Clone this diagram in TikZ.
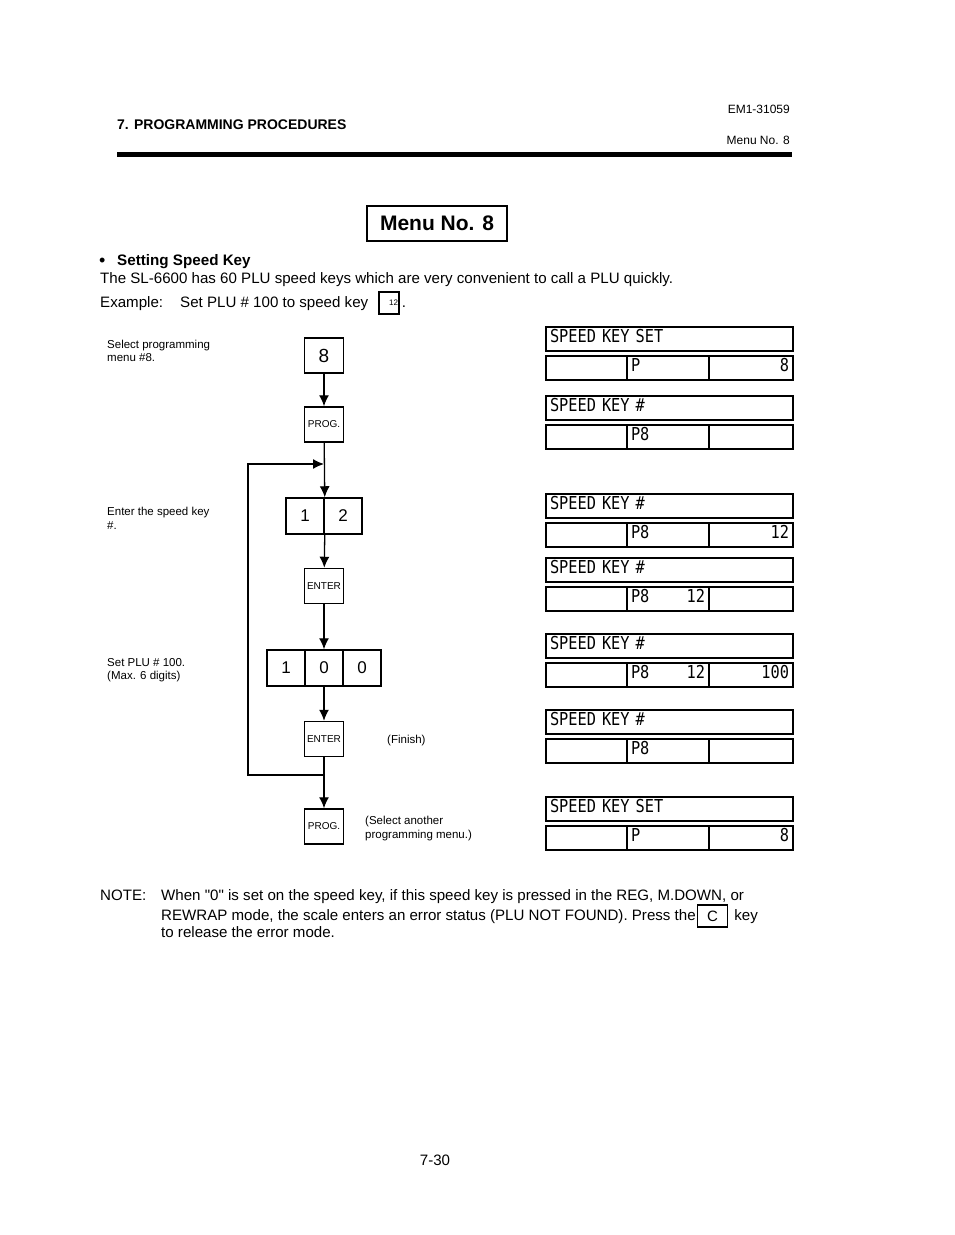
\documentclass[tikz,border=0pt]{standalone}
\usepackage{fontspec}
\setmainfont{Liberation Sans}
\newfontfamily\lcdfont[FakeStretch=0.86]{DejaVu Sans Mono}
\usepackage{tikz}
\usetikzlibrary{arrows.meta,positioning,calc}

\begin{document}
\begin{tikzpicture}[
  x=1pt, y=-1pt,
  key/.style={draw,line width=1.5pt,minimum width=39pt,minimum height=35pt,inner sep=0pt,font=\fontsize{10}{10}\selectfont},
  cell/.style={draw,line width=1.5pt,minimum width=38pt,minimum height=36pt,inner sep=0pt,font=\fontsize{17}{17}\selectfont},
  arrow/.style={-{Latex[length=11pt,width=10pt]},line width=1.3pt},
  wire/.style={line width=1.3pt},
  txt/.style={anchor=base west,inner sep=0pt,font=\fontsize{15.1}{17}\selectfont},
  small/.style={anchor=base west,inner sep=0pt,font=\fontsize{11.5}{13}\selectfont},
  lcd/.style={draw,line width=1.6pt,anchor=north west,outer sep=0pt,minimum height=24pt,inner xsep=4pt,inner ysep=0pt,
    text height=13pt,text depth=7pt,font=\lcdfont\fontsize{17.8}{18}\selectfont}
]
  \fill[white] (0,0) rectangle (954,1235);

  \node[txt,font=\bfseries\fontsize{14}{16}\selectfont] (hdr) at (117,129) {7. PROGRAMMING PROCEDURES};
  \node[small,anchor=base east,font=\fontsize{12}{13}\selectfont] (docno) at (790,113) {EM1-31059};
  \node[small,anchor=base east,font=\fontsize{12}{13}\selectfont] (menuno) at (790,144) {Menu No. 8};
  \draw[line width=5pt] (117,154) -- (792,154);

  \node[draw,line width=1.5pt,minimum width=140pt,minimum height=35pt,
    font=\bfseries\fontsize{21}{21}\selectfont] (menu) at (437,223.5) {Menu No. 8};
  \node[txt,font=\fontsize{18}{18}\selectfont] (bullet) at (99,266) {\textbullet};
  \node[txt,font=\bfseries\fontsize{15.2}{17}\selectfont] (setting) at (117,265) {Setting Speed Key};
  \node[txt] (intro) at (100,283) {The SL-6600 has 60 PLU speed keys which are very convenient to call a PLU quickly.};
  \node[txt] (example) at (100,307) {Example:};
  \node[txt] (exset) at (180,307) {Set PLU \# 100 to speed key};
  \node[draw,line width=1.3pt,minimum height=22pt,inner sep=1pt,text width=18pt,align=right,
    font=\fontsize{8}{8}\selectfont] (exkey) at (389,303) {12};
  \node[txt] (exdot) at ($(exkey.east |- exset.base)+(2,0)$) {.};

  \node[small] (sel1) at (107,348) {Select programming};
  \node[small] (sel2) at (107,361) {menu \#8.};
  \node[small] (ent1) at (107,515) {Enter the speed key};
  \node[small] (ent2) at (107,529) {\#.};
  \node[small] (plu1) at (107,666) {Set PLU \# 100.};
  \node[small] (plu2) at (107,679) {(Max. 6 digits)};

  \node[key,font=\fontsize{19}{19}\selectfont] (k8) at (324,355.5) {8};
  \node[key] (prog1) at (324,424.5) {PROG.};
  \node[cell] (k12a) at (305,516) {1};
  \node[cell] (k12b) at (343,516) {2};
  \node[key] (enter1) at (324,586) {ENTER};
  \node[cell] (k100a) at (286,668) {1};
  \node[cell] (k100b) at (324,668) {0};
  \node[cell] (k100c) at (362,668) {0};
  \node[key] (enter2) at (324,739) {ENTER};
  \node[small] (finish) at (387,743) {(Finish)};
  \node[key] (prog2) at (324,826.5) {PROG.};
  \node[small] (another1) at (365,824) {(Select another};
  \node[small] (another2) at (365,838) {programming menu.)};

  \coordinate (merge) at (324,464);
  \coordinate (join) at (324,775);
  \coordinate (loopl) at (248,775);

  \draw[arrow] (k8) -- (prog1);
  \draw[arrow] (prog1) -- (k12a.north east);
  \draw[arrow] (k12a.south east) -- (enter1);
  \draw[arrow] (enter1) -- (k100b);
  \draw[arrow] (k100b) -- (enter2);
  \draw[wire] (enter2) -- (join);
  \draw[arrow] (join) -- (prog2);
  \draw[arrow] (join) -- (loopl) |- (merge);

  \foreach \n/\top/\title/\mid/\last in {
    1/327/{SPEED KEY SET}/{P}/{8},
    2/396/{SPEED KEY \#}/{P8}/{},
    3/494/{SPEED KEY \#}/{P8}/{12},
    4/558/{SPEED KEY \#}/{P8\hfill 12}/{},
    5/634/{SPEED KEY \#}/{P8\hfill 12}/{100},
    6/710/{SPEED KEY \#}/{P8}/{},
    7/797/{SPEED KEY SET}/{P}/{8}}
  {
    \node[lcd,text width=239pt,align=left] (bar\n) at (546,\top) {\title};
    \node[lcd,text width=73pt] (cella\n) at (546,\top+29) {};
    \node[lcd,text width=74pt,align=left] (cellb\n) at (cella\n.north east) {\mid};
    \node[lcd,text width=76pt,align=right] (cellc\n) at (cellb\n.north east) {\last};
  }

  \node[txt] (note) at (100,900) {NOTE:};
  \node[txt] (note1) at (161,900) {When \textquotedbl0\textquotedbl\ is set on the speed key, if this speed key is pressed in the REG, M.DOWN, or};
  \node[txt] (note2) at (161,920) {REWRAP mode, the scale enters an error status (PLU NOT FOUND). Press the};
  \node[draw,line width=1.3pt,minimum width=30pt,minimum height=22pt,inner sep=0pt,
    font=\fontsize{15}{17}\selectfont,right=1pt of note2] (keyc) {C};
  \node[txt] (note2b) at ($(keyc.east |- note2.base)+(6,0)$) {key};
  \node[txt] (note3) at (161,937) {to release the error mode.};

  \node[txt,anchor=base] (page) at (435,1165) {7-30};
\end{tikzpicture}
\end{document}
